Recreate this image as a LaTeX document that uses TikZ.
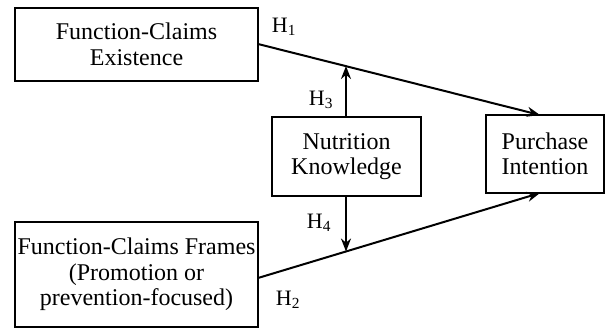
\documentclass[tikz,border=0pt]{standalone}
\usepackage{fontspec}
\setmainfont{Liberation Serif}
\usetikzlibrary{arrows.meta}
\begin{document}
\begin{tikzpicture}[x=1pt,y=-1pt,
  box/.style={draw,line width=2pt,inner sep=0pt,align=center,
    font=\fontsize{24}{25.5}\selectfont},
  hlab/.style={inner sep=0pt,font=\fontsize{22}{24}\selectfont},
  conn/.style={line width=2pt,-{Stealth[length=13pt,width=10pt]}}]
\useasboundingbox (0,0) rectangle (607,329);
\node[box,minimum width=243pt,minimum height=73pt] (b1) at (136.5,44.5) {Function-Claims\\Existence};
\node[box,minimum width=149pt,minimum height=79pt] (nk) at (346.5,156.5) {Nutrition\\Knowledge};
\node[box,minimum width=118pt,minimum height=78pt] (pi) at (545,154) {Purchase\\Intention};
\node[box,minimum width=243pt,minimum height=105pt] (b4) at (136.5,274.5) {Function-Claims Frames\\(Promotion or\\prevention-focused)};
\coordinate (s1) at (258,44);
\coordinate (s2) at (258,278);
\coordinate (t1) at (540,115);
\coordinate (t2) at (540,193);
\coordinate (m1) at (346,66);
\coordinate (m2) at (346,251.5);
\draw[conn] (s1) -- (t1);
\draw[conn] (s2) -- (t2);
\draw[conn] (nk.north -| m1) -- (m1);
\draw[conn] (nk.south -| m2) -- (m2);
\node[hlab] (h1) at (284,27) {H\textsubscript{1}};
\node[hlab] (h3) at (321,100) {H\textsubscript{3}};
\node[hlab] (h4) at (319,223) {H\textsubscript{4}};
\node[hlab] (h2) at (288,300) {H\textsubscript{2}};
\end{tikzpicture}
\end{document}
